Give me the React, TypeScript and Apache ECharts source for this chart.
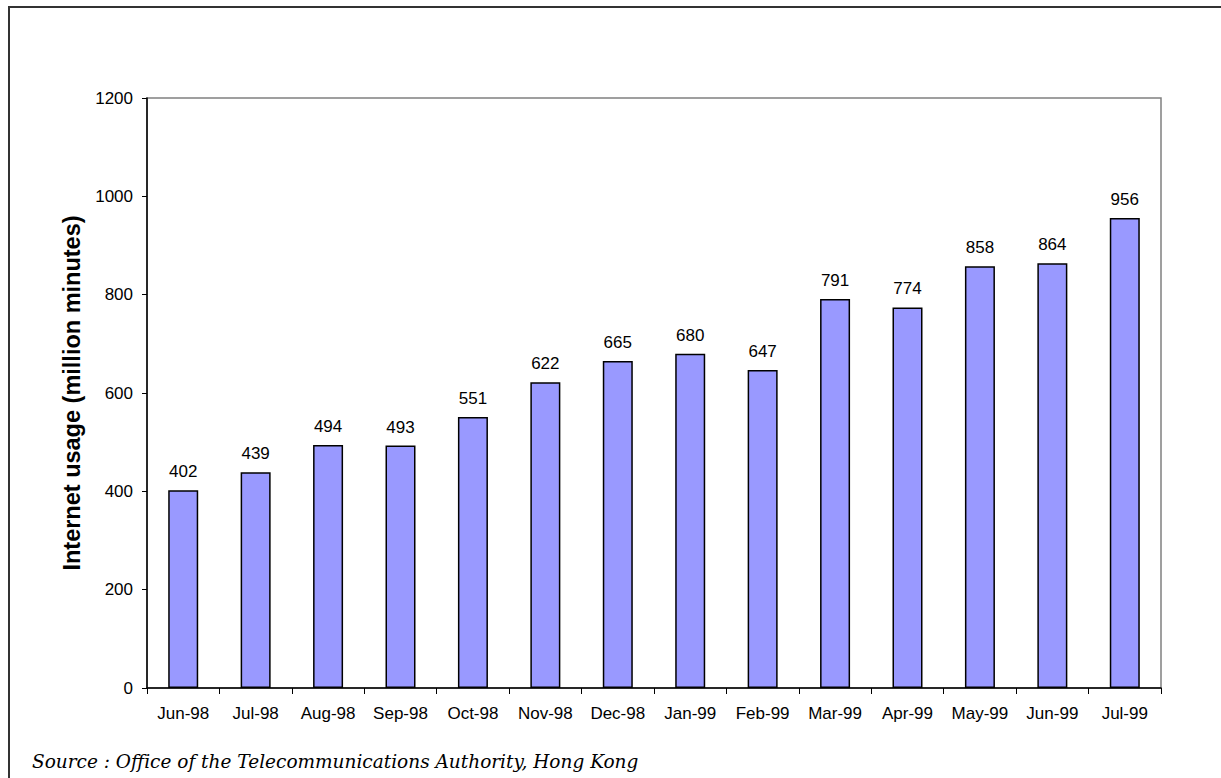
import React, { useEffect, useRef } from "react";
import * as echarts from "echarts";

// Monthly Internet usage in Hong Kong, million minutes
const months = [
  "Jun-98", "Jul-98", "Aug-98", "Sep-98", "Oct-98", "Nov-98", "Dec-98",
  "Jan-99", "Feb-99", "Mar-99", "Apr-99", "May-99", "Jun-99", "Jul-99",
];
const usage = [402, 439, 494, 493, 551, 622, 665, 680, 647, 791, 774, 858, 864, 956];

const yAxisTitle = "Internet usage (million minutes)";
const sourceNote = "Source : Office of the Telecommunications Authority, Hong Kong";

const W = 1221;
const H = 778;

export default function App() {
  const ref = useRef<HTMLDivElement>(null);

  useEffect(() => {
    if (!ref.current) return;
    const chart = echarts.init(ref.current, null, { renderer: "svg" });
    const sans = "Liberation Sans, Arial, sans-serif";
    chart.setOption({
      animation: false,
      backgroundColor: "#ffffff",
      grid: {
        left: 147,
        top: 98,
        right: W - 1161,
        bottom: H - 688,
        show: true,
        borderColor: "#808080",
        borderWidth: 1.5,
      },
      xAxis: {
        type: "category",
        data: months,
        axisLine: { lineStyle: { color: "#000", width: 1.5 } },
        axisTick: { show: true, alignWithLabel: false, length: 6, lineStyle: { color: "#000", width: 1 } },
        axisLabel: { color: "#000", fontFamily: sans, fontSize: 17, margin: 17, interval: 0 },
        splitLine: { show: false },
      },
      yAxis: {
        type: "value",
        min: 0,
        max: 1200,
        interval: 200,
        name: yAxisTitle,
        nameLocation: "middle",
        nameGap: 57,
        nameTextStyle: { color: "#000", fontFamily: sans, fontSize: 23.5, fontWeight: "bold" },
        axisLine: { show: true, lineStyle: { color: "#000", width: 1.5 } },
        axisTick: { show: true, length: 5, lineStyle: { color: "#000", width: 1 } },
        axisLabel: {
          color: "#000",
          fontFamily: sans,
          fontSize: 17,
          margin: 14,
          formatter: (v: number) => String(v),
        },
        splitLine: { show: false },
      },
      series: [
        {
          type: "bar",
          data: usage,
          barWidth: 30,
          itemStyle: { color: "#9999ff", borderColor: "#000", borderWidth: 1.5 },
          label: {
            show: true,
            position: "top",
            distance: 10,
            color: "#000",
            fontFamily: sans,
            fontSize: 17,
          },
        },
      ],
      graphic: [
        {
          type: "rect",
          shape: { x: 9, y: 7, width: W + 50, height: H + 50 },
          style: { fill: "none", stroke: "#333", lineWidth: 2 },
          silent: true,
        },
        {
          type: "text",
          left: 32,
          top: 752,
          style: {
            text: sourceNote,
            fill: "#000",
            font: "italic 18.5px 'DejaVu Serif', serif",
          },
        },
      ],
    });
    return () => chart.dispose();
  }, []);

  return (
    <div
      ref={ref}
      style={{ position: "absolute", left: 0, top: 0, width: W, height: H }}
    />
  );
}
